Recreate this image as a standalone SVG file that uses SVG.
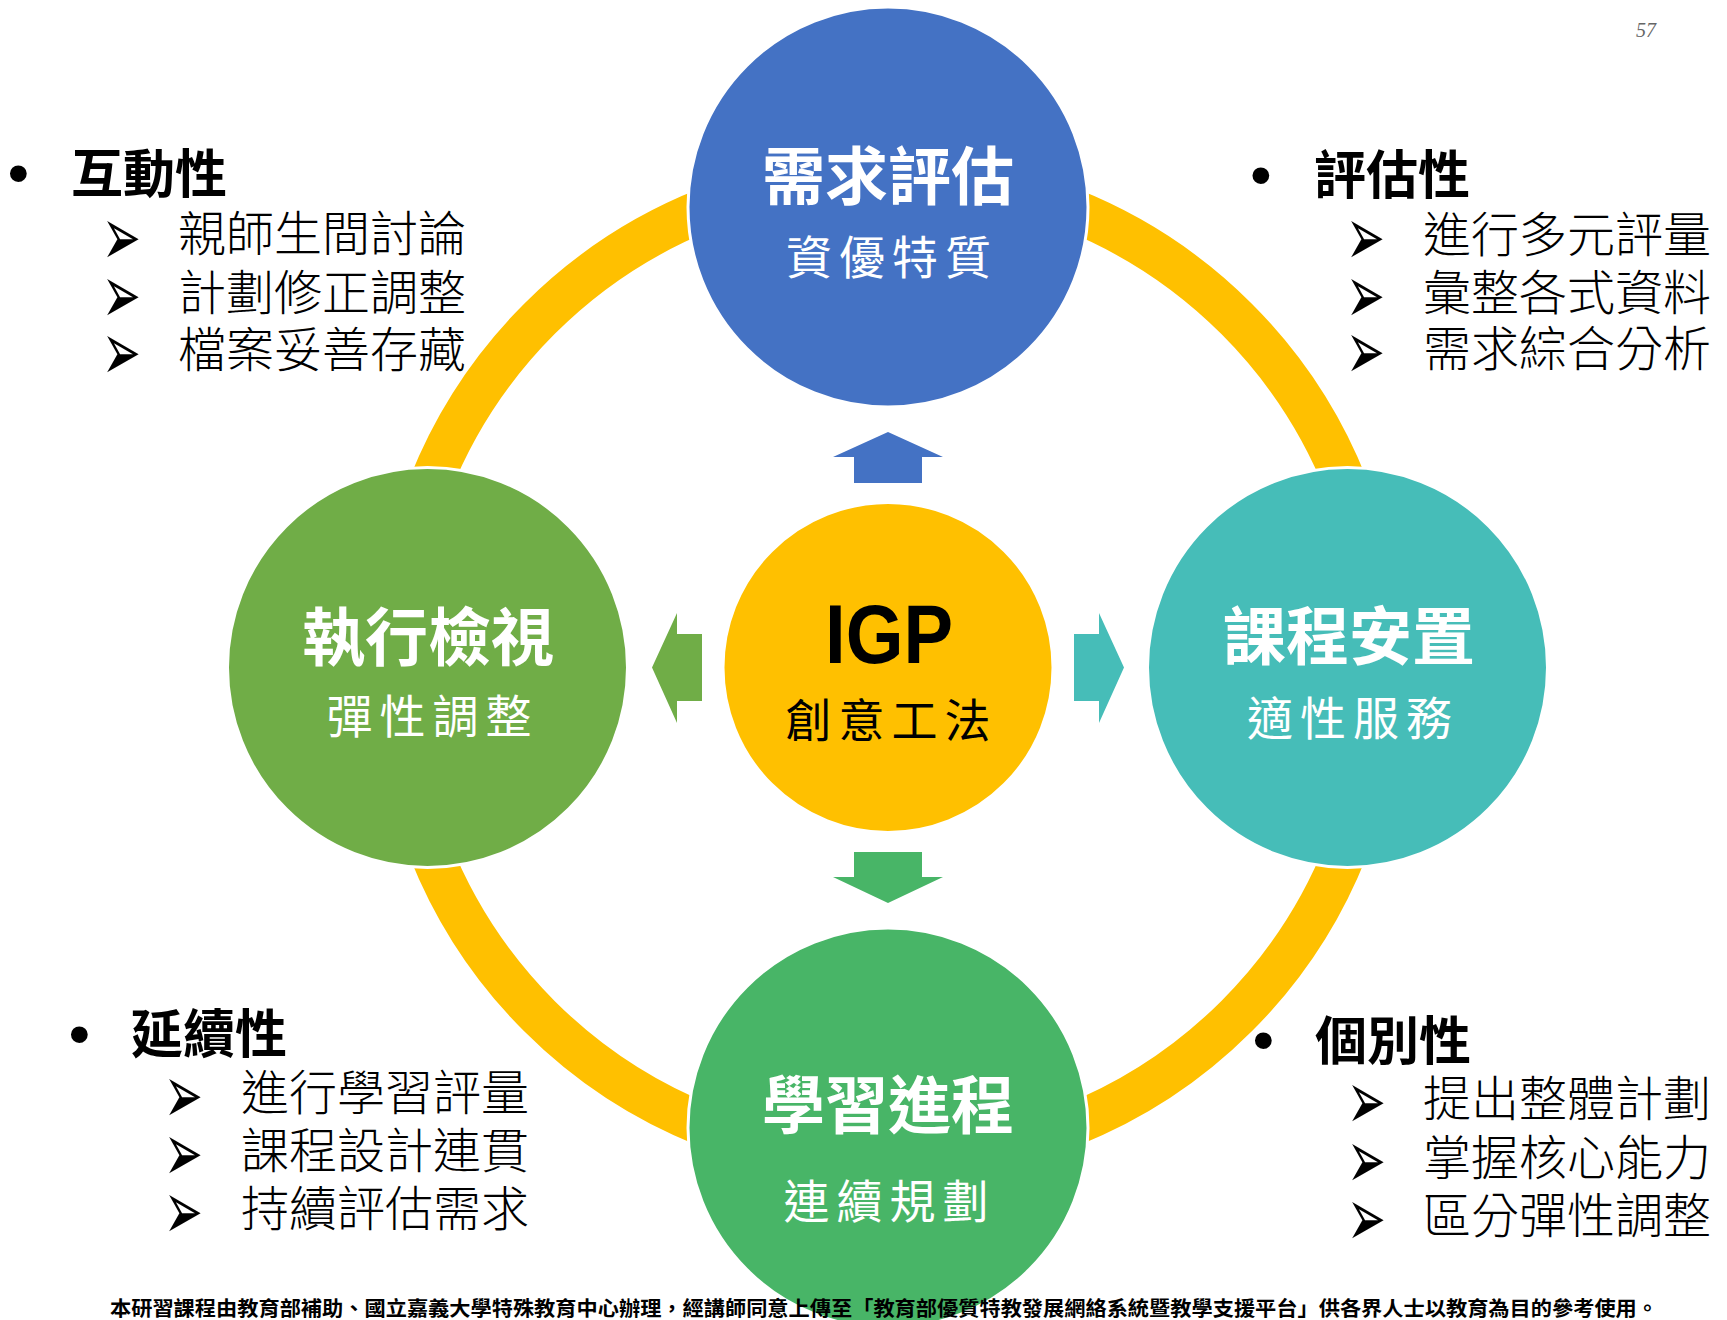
<svg xmlns="http://www.w3.org/2000/svg" width="1727" height="1320" viewBox="0 0 1727 1320">
<style>
  .node { stroke: #FFFFFF; stroke-width: 3; }
  .title { font-family: "Noto Sans CJK TC", "Noto Sans CJK SC", sans-serif; font-weight: 700; font-size: 63px; fill: #FFFFFF; text-anchor: middle; }
  .sub { font-family: "Noto Sans CJK TC", "Noto Sans CJK SC", serif; font-weight: 400; font-size: 46px; fill: #FFFFFF; text-anchor: middle; letter-spacing: 7px; }
  .head { font-family: "Noto Sans CJK TC", "Noto Sans CJK SC", sans-serif; font-weight: 700; font-size: 52px; fill: #000000; }
  .item { font-family: "Noto Sans CJK TC", "Noto Sans CJK SC", sans-serif; font-weight: 300; font-size: 48px; fill: #000000; }
  .mark { font-family: "DejaVu Sans", sans-serif; font-size: 40px; fill: #000000; }
  .dot { font-family: "Liberation Sans", sans-serif; font-size: 62px; fill: #000000; }
</style>
<rect x="0" y="0" width="1727" height="1320" fill="#FFFFFF"/>

<g id="connectors">
  <circle cx="888" cy="667.5" r="493" fill="none" stroke="#FFC000" stroke-width="43"/>
  <path d="M888,432 L943,457 L922,457 L922,483 L854,483 L854,457 L833,457 Z" fill="#4472C4"/>
  <path d="M888,903 L943,877 L922,877 L922,852 L854,852 L854,877 L833,877 Z" fill="#48B567"/>
  <path d="M652,667.5 L677,613 L677,634 L702,634 L702,701 L677,701 L677,723 Z" fill="#70AD47"/>
  <path d="M1124,667.5 L1099,613 L1099,634 L1074,634 L1074,701 L1099,701 L1099,723 Z" fill="#46BDB8"/>
</g>

<g id="node-needs">
  <circle class="node" cx="888" cy="207" r="200" fill="#4472C4"/>
  <text class="title" x="888" y="199">需求評估</text>
  <text class="sub" x="892" y="273.5">資優特質</text>
</g>

<g id="node-review">
  <circle class="node" cx="427.5" cy="667.5" r="200" fill="#70AD47"/>
  <text class="title" x="428" y="659.5">執行檢視</text>
  <text class="sub" x="432.5" y="733">彈性調整</text>
</g>

<g id="node-placement">
  <circle class="node" cx="1347.5" cy="667.5" r="200" fill="#46BDB8"/>
  <text class="title" x="1349" y="659">課程安置</text>
  <text class="sub" x="1353" y="734.5">適性服務</text>
</g>

<g id="node-learning">
  <circle class="node" cx="888" cy="1128" r="200" fill="#48B567"/>
  <text class="title" x="888" y="1127.5">學習進程</text>
  <text class="sub" x="889.5" y="1217.5">連續規劃</text>
</g>

<g id="node-igp">
  <circle class="node" cx="888" cy="667.5" r="165" fill="#FFC000"/>
  <text x="825" y="663" font-family="Liberation Sans, sans-serif" font-weight="700" font-size="84" fill="#000000" textLength="128" lengthAdjust="spacingAndGlyphs">IGP</text>
  <text class="sub" x="891.5" y="737" style="fill:#000000">創意工法</text>
</g>

<g id="list-interaction">
  <text class="dot" x="7.5" y="194">•</text>
  <text class="head" x="71" y="193">互動性</text>
  <text class="mark" transform="translate(102,264.5) scale(1.16,2.06)">➢</text>
  <text class="item" x="178" y="251.2">親師生間討論</text>
  <text class="mark" transform="translate(102,323) scale(1.16,2.06)">➢</text>
  <text class="item" x="178" y="310.2">計劃修正調整</text>
  <text class="mark" transform="translate(102,380) scale(1.16,2.06)">➢</text>
  <text class="item" x="178" y="366.7">檔案妥善存藏</text>
</g>

<g id="list-assessment">
  <text class="dot" x="1250" y="196">•</text>
  <text class="head" x="1314" y="194">評估性</text>
  <text class="mark" transform="translate(1346,265) scale(1.16,2.06)">➢</text>
  <text class="item" x="1423" y="252.2">進行多元評量</text>
  <text class="mark" transform="translate(1346,323) scale(1.16,2.06)">➢</text>
  <text class="item" x="1423" y="310.2">彙整各式資料</text>
  <text class="mark" transform="translate(1346,379) scale(1.16,2.06)">➢</text>
  <text class="item" x="1423" y="366.2">需求綜合分析</text>
</g>

<g id="list-continuity">
  <text class="dot" x="68.5" y="1055">•</text>
  <text class="head" x="131" y="1053">延續性</text>
  <text class="mark" transform="translate(164,1122.5) scale(1.16,2.06)">➢</text>
  <text class="item" x="241" y="1109.7">進行學習評量</text>
  <text class="mark" transform="translate(164,1181) scale(1.16,2.06)">➢</text>
  <text class="item" x="241" y="1168.2">課程設計連貫</text>
  <text class="mark" transform="translate(164,1239) scale(1.16,2.06)">➢</text>
  <text class="item" x="241" y="1226.2">持續評估需求</text>
</g>

<g id="list-individual">
  <text class="dot" x="1252.5" y="1061">•</text>
  <text class="head" x="1315" y="1059.5">個別性</text>
  <text class="mark" transform="translate(1347,1129) scale(1.16,2.06)">➢</text>
  <text class="item" x="1423" y="1116.2">提出整體計劃</text>
  <text class="mark" transform="translate(1347,1188) scale(1.16,2.06)">➢</text>
  <text class="item" x="1423" y="1175.2">掌握核心能力</text>
  <text class="mark" transform="translate(1347,1246) scale(1.16,2.06)">➢</text>
  <text class="item" x="1423" y="1233.2">區分彈性調整</text>
</g>

<text x="110" y="1316" font-family="Noto Sans CJK TC, Noto Sans CJK SC, sans-serif" font-weight="700" font-size="20" fill="#000000" textLength="1548" lengthAdjust="spacingAndGlyphs">本研習課程由教育部補助、國立嘉義大學特殊教育中心辦理，經講師同意上傳至「教育部優質特教發展網絡系統暨教學支援平台」供各界人士以教育為目的參考使用。</text>
<text x="1636" y="37" font-family="Liberation Serif, serif" font-style="italic" font-size="20" fill="#666666">57</text>
</svg>
